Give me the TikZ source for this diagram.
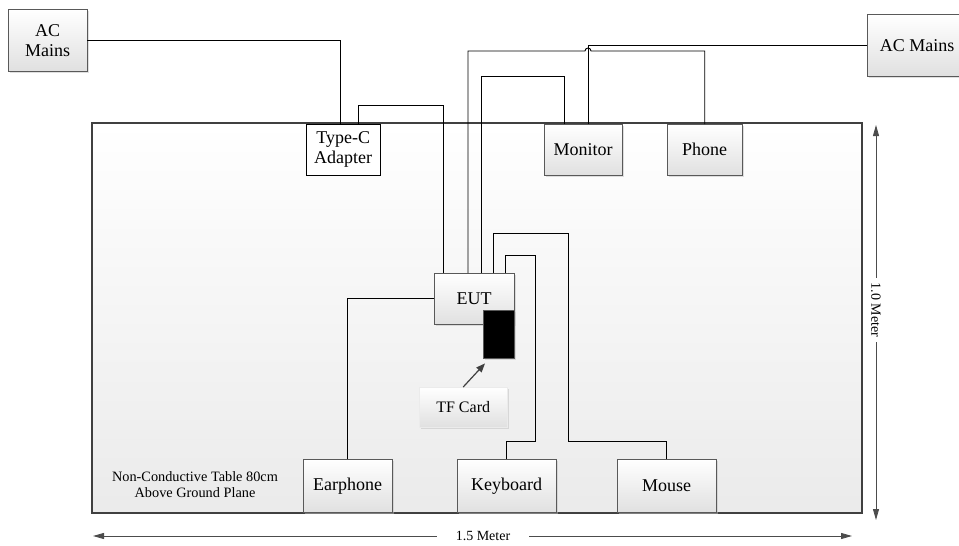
\documentclass[tikz,border=0pt]{standalone}
\usepackage{fontspec}
\setmainfont{Liberation Serif}
\usetikzlibrary{arrows.meta,shadows,positioning}

\tikzstyle{dev-box} = [draw=black!65, top color=white, bottom color=black!12,
    rectangle, inner sep=0pt, anchor=north west, align=center,
    font=\fontsize{18}{20}\selectfont,
    drop shadow={shadow xshift=2pt, shadow yshift=-2pt, fill=black!25}]
\tikzstyle{plain-box} = [draw=black, fill=white, rectangle, inner sep=0pt,
    anchor=north west, align=center, font=\fontsize{18}{20}\selectfont]
\tikzstyle{table-box} = [draw=black!75, line width=2pt, top color=white, bottom color=black!8]
\tikzstyle{wire} = [draw=black, line width=0.9pt]
\tikzstyle{dim-arrow} = [draw=black!70, line width=0.8pt,
    {Triangle[length=11pt,width=6pt]}-{Triangle[length=11pt,width=6pt]}]
\tikzstyle{dim-label} = [fill=white, font=\fontsize{14}{16}\selectfont]

\begin{document}
\begin{tikzpicture}[x=1pt,y=-1pt]
\useasboundingbox (0,0) rectangle (959,546);
\draw[table-box] (92,123) rectangle (862,513);
\node[align=center, font=\fontsize{14.3}{16}\selectfont] (tablenote) at (195,485)
    {Non-Conductive Table 80cm\\Above Ground Plane};

\node[dev-box, minimum width=79pt, minimum height=62pt] (acl) at (8,9) {AC\\Mains};
\node[dev-box, minimum width=100pt, minimum height=62pt] (acr) at (867,14) {AC Mains};
\node[plain-box, minimum width=74pt, minimum height=51pt] (typec) at (306,124) {Type-C\\Adapter};
\node[dev-box, minimum width=78pt, minimum height=51pt] (monitor) at (544,124) {Monitor};
\node[dev-box, minimum width=75pt, minimum height=51pt] (phone) at (667,124) {Phone};
\node[dev-box, minimum width=80pt, minimum height=51pt] (eut) at (434,273) {EUT};
\node[dev-box, fill=black, top color=black, bottom color=black,
    minimum width=31pt, minimum height=48pt] (tfslot) at (483,310) {};
\node[dev-box, draw=black!8, minimum width=88pt, minimum height=40pt,
    font=\fontsize{16}{18}\selectfont] (tfcard) at (419,387) {TF Card};
\node[dev-box, minimum width=89pt, minimum height=53pt] (earphone) at (303,459) {Earphone};
\node[dev-box, minimum width=99pt, minimum height=53pt] (keyboard) at (457,459) {Keyboard};
\node[dev-box, minimum width=99pt, minimum height=53pt] (mouse) at (617,459) {Mouse};
\coordinate (hop) at (588,51);

% cables
\draw[wire] (acl.east) -| ([xshift=34pt]typec.north west);
\draw[wire] ([xshift=52pt]typec.north west) -- ++(0,-19) -| ([xshift=9pt]eut.north west);
\draw[wire] (acr.west) -| ([xshift=44pt]monitor.north west);
\draw[wire] ([xshift=34pt]eut.north west) |- ([xshift=-3pt]hop)
    arc[start angle=180, end angle=360, radius=3] -| (phone.north);
\draw[wire] ([xshift=20pt]monitor.north west) -- ++(0,-48) -| ([xshift=47pt]eut.north west);
\draw[wire] ([xshift=59pt]eut.north west) -- ++(0,-40) -- ++(75,0)
    |- ([yshift=18pt]mouse.north) -- (mouse.north);
\draw[wire] ([xshift=71pt]eut.north west) -- ++(0,-18) -- ++(30,0)
    |- ([yshift=18pt]keyboard.north) -- (keyboard.north);
\draw[wire] (eut.west) -| (earphone.north);
\draw[draw=black!75, line width=1.2pt, -{Triangle[length=9pt,width=7pt]}]
    (tfcard.north) -- ([xshift=2pt,yshift=-5pt]tfslot.south west);

% dimensions
\draw[dim-arrow] (93,536) -- (852,536);
\node[dim-label, inner xsep=19pt] (width) at (483,536) {1.5 Meter};
\draw[dim-arrow] (876,125) -- (876,520);
\node[dim-label, rotate=-90, inner xsep=5pt] (depth) at (876,310) {1.0 Meter};
\end{tikzpicture}
\end{document}
